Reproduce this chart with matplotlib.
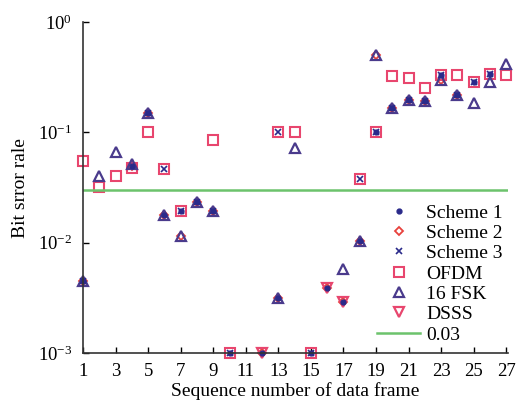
import numpy as np
import matplotlib
matplotlib.use("Agg")
import matplotlib.pyplot as plt

plt.rcParams['font.family'] = ['Liberation Serif', 'DejaVu Serif']
plt.rcParams['mathtext.fontset'] = 'stix'

nan = np.nan
frames = np.arange(1, 28)

# bit error rate per data frame (nan = not shown)
ofdm = [0.0556, 0.0323, 0.040, 0.048, 0.100, 0.0465, 0.0196, nan, 0.0855, 0.001,
        nan, nan, 0.100, 0.100, 0.001, nan, nan, 0.038, 0.100, 0.325,
        0.310, 0.251, 0.334, 0.330, 0.285, 0.340, 0.334]
fsk16 = [0.00447, 0.0404, 0.067, 0.052, 0.151, 0.018, 0.0114, 0.0235, 0.0195, nan,
         nan, nan, 0.00316, 0.073, nan, nan, 0.00578, 0.0103, 0.503, 0.166,
         0.197, 0.194, 0.300, 0.220, 0.186, 0.285, 0.417]
dsss = [nan, nan, nan, nan, nan, nan, nan, nan, nan, nan,
        nan, 0.001, nan, nan, nan, 0.0039, 0.00292, nan, nan, nan,
        nan, nan, nan, nan, nan, nan, nan]
scheme1 = [0.00447, nan, nan, 0.050, 0.151, 0.018, 0.0196, 0.0235, 0.0195, 0.001,
           nan, 0.001, 0.00316, nan, 0.001, 0.0039, 0.00292, 0.0103, 0.100, 0.166,
           0.197, 0.194, 0.334, 0.220, 0.285, 0.340, nan]
scheme2 = [0.00447, nan, nan, 0.050, 0.151, 0.018, 0.0114, 0.0235, 0.0195, nan,
           nan, 0.001, 0.00316, nan, nan, 0.0039, 0.00292, 0.0103, 0.503, 0.166,
           0.197, 0.194, 0.300, 0.220, nan, nan, nan]
scheme3 = [0.00447, nan, nan, nan, 0.151, 0.0465, 0.0196, 0.0235, 0.0195, 0.001,
           nan, nan, 0.100, nan, 0.001, nan, nan, 0.038, 0.100, 0.166,
           0.197, 0.194, 0.334, 0.220, 0.285, 0.340, nan]

navy = '#2a2a8a'
red = '#e8413c'
pink = '#e8466e'
purple = '#4a3a8c'

fig = plt.figure(figsize=(5.17, 4.03), dpi=100)
ax = fig.add_axes([0.1605, 0.124, 0.822, 0.821])

ax.plot(frames, scheme2, 'D', ms=4.5, mfc='none', mec=red, mew=1.3, label='Scheme 2', clip_on=False)
ax.plot(frames, ofdm, 's', ms=6.5, mfc='none', mec=pink, mew=1.5, label='OFDM', clip_on=False)
ax.plot(frames, dsss, 'v', ms=7.5, mfc='none', mec=pink, mew=1.6, label='DSSS', clip_on=False)
ax.plot(frames, fsk16, '^', ms=7.5, mfc='none', mec=purple, mew=1.6, label='16 FSK', clip_on=False)
ax.plot(frames, scheme1, 'o', ms=3.5, color=navy, label='Scheme 1', clip_on=False)
ax.plot(frames, scheme3, 'x', ms=4.5, color=navy, mew=1.2, label='Scheme 3', clip_on=False)
ax.axhline(0.03, color='#6cc36c', lw=1.8, label='0.03')

ax.set_yscale('log')
ax.set_ylim(1e-3, 1)
ax.set_xlim(1, 27.1)
ax.set_xticks(np.arange(1, 28, 2))
ax.minorticks_off()
ax.tick_params(direction='in', length=4, width=1, labelsize=13.5)
ax.tick_params(axis='y', pad=8)
ax.tick_params(axis='x', pad=7)
for s in ['top', 'right']:
    ax.spines[s].set_visible(False)
for s in ['left', 'bottom']:
    ax.spines[s].set_linewidth(1.2)
    ax.spines[s].set_color('#333333')

ax.set_xlabel('Sequence number of data frame', fontsize=14, labelpad=2)
ax.set_ylabel('Bit srror rale', fontsize=14, labelpad=6)

h, l = ax.get_legend_handles_labels()
order = ['Scheme 1', 'Scheme 2', 'Scheme 3', 'OFDM', '16 FSK', 'DSSS', '0.03']
hh = [h[l.index(o)] for o in order]
ax.legend(hh, order, loc='upper left', bbox_to_anchor=(0.67, 0.48), frameon=False,
          fontsize=14, handlelength=2.2, handletextpad=0.3, labelspacing=0.14,
          borderpad=0)

fig.savefig('out.png', dpi=100)
